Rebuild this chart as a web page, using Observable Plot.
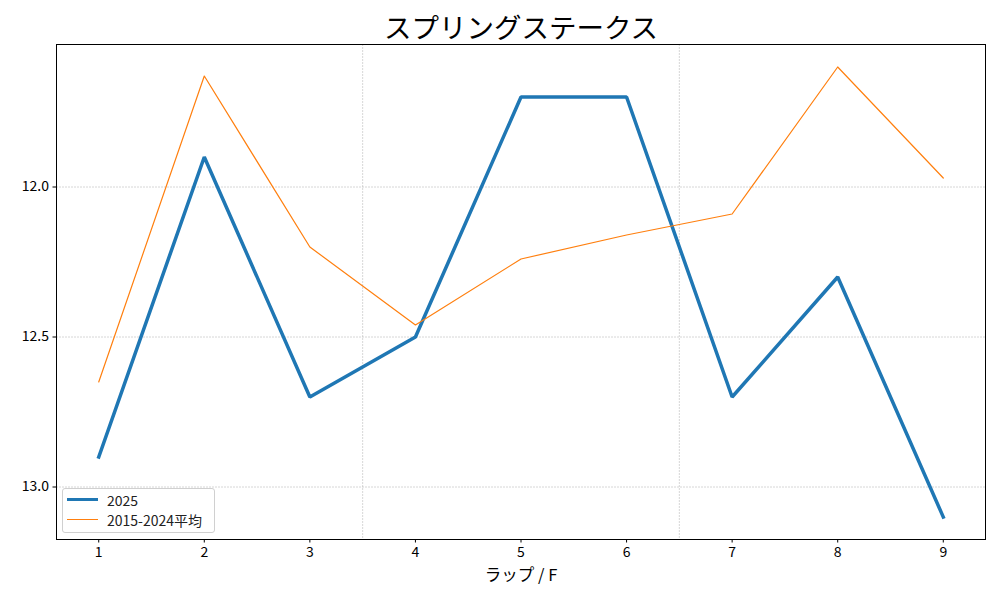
<!DOCTYPE html>
<html><head><meta charset="utf-8">
<script src="https://cdn.jsdelivr.net/npm/d3@7"></script>
<script src="https://cdn.jsdelivr.net/npm/@observablehq/plot@0.6"></script>
<style>
body{margin:0;background:#fff;font-family:"Noto Sans CJK JP","Noto Sans",sans-serif;}
#wrap{position:relative;width:1000px;height:600px;}
#legend{position:absolute;left:62px;top:488px;width:153px;height:45px;border:1px solid #d0d0d0;border-radius:3px;background:rgba(255,255,255,0.85);font-size:14px;color:#222;box-sizing:border-box;}
.row{position:absolute;left:4px;height:17px;display:flex;align-items:center;}
.sw{width:31px;margin-right:9px;}
</style></head>
<body><div id="wrap"></div>
<script>
const title = "スプリングステークス";
const xLabel = "ラップ / F";
const laps = [1, 2, 3, 4, 5, 6, 7, 8, 9];
const series2025 = [12.9, 11.9, 12.7, 12.5, 11.7, 11.7, 12.7, 12.3, 13.1];
const seriesAvg = [12.65, 11.63, 12.2, 12.46, 12.24, 12.16, 12.09, 11.6, 11.97];
const yTicks = [12.0, 12.5, 13.0];
const xGrid = [3.5, 6.5];
const seriesNames = ["2025", "2015-2024平均"];
const colors = ["#1f77b4", "#ff7f0e"];
const widths = [3.5, 1.2];

const d2025 = laps.map((l, i) => ({lap: l, t: series2025[i]}));
const dAvg = laps.map((l, i) => ({lap: l, t: seriesAvg[i]}));
const grid = {stroke: "#b0b0b0", strokeOpacity: 0.85, strokeWidth: 0.6, strokeDasharray: "2,1"};

const chart = Plot.plot({
  width: 1000, height: 600,
  marginLeft: 56, marginRight: 15, marginTop: 44, marginBottom: 61,
  style: {fontSize: "14px", fontFamily: '"Noto Sans CJK JP","Noto Sans",sans-serif', color: "#000", background: "#fff"},
  x: {domain: [0.6, 9.4]},
  y: {domain: [11.525, 13.175], reverse: true},
  marks: [
    Plot.ruleY(yTicks, grid),
    Plot.ruleX(xGrid, grid),
    Plot.line(d2025, {x: "lap", y: "t", stroke: colors[0], strokeWidth: widths[0], strokeLinejoin: "miter", strokeLinecap: "square"}),
    Plot.line(dAvg, {x: "lap", y: "t", stroke: colors[1], strokeWidth: widths[1]}),
    Plot.frame({stroke: "#000", strokeWidth: 1}),
    Plot.axisX({ticks: laps, tickSize: 3.5, tickFormat: d => String(d), label: null, tickPadding: 4}),
    Plot.axisY({ticks: yTicks, tickSize: 3.5, tickFormat: d3.format(".1f"), label: null, tickPadding: 4}),
    Plot.text([title], {frameAnchor: "top", lineAnchor: "bottom", dy: -7, fontSize: 27.5, fill: "#000"}),
    Plot.text([xLabel], {frameAnchor: "bottom", lineAnchor: "middle", dy: 36, fontSize: 16.5, fill: "#000"})
  ]
});
const wrap = document.getElementById("wrap");
wrap.appendChild(chart);

const legend = document.createElement("div");
legend.id = "legend";
seriesNames.forEach((n, i) => {
  const row = document.createElement("div");
  row.className = "row";
  row.style.top = (2 + i * 20) + "px";
  const sw = document.createElement("div");
  sw.className = "sw";
  sw.style.borderTop = widths[i] + "px solid " + colors[i];
  const tx = document.createElement("span");
  tx.textContent = n;
  row.appendChild(sw); row.appendChild(tx);
  legend.appendChild(row);
});
wrap.appendChild(legend);
</script></body></html>
